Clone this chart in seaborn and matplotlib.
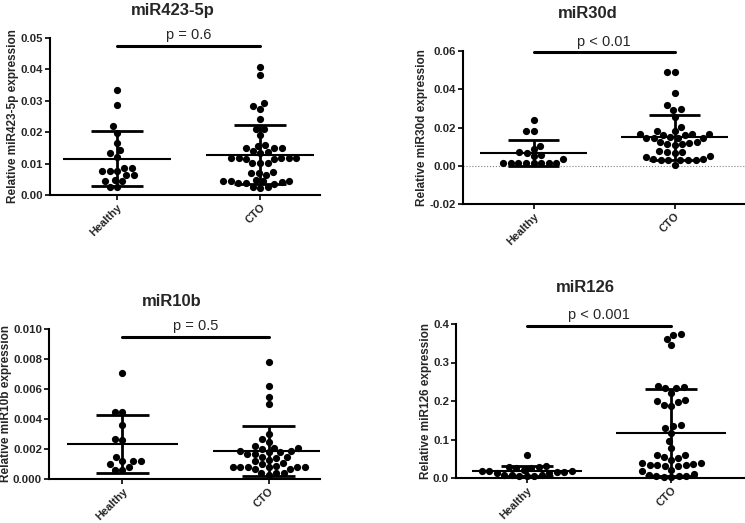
import numpy as np
import pandas as pd
import matplotlib
matplotlib.use("Agg")
import matplotlib.pyplot as plt
import seaborn as sns

# ==============================
# values
# ==============================
groups = ["Healthy", "CTO"]

mir423_healthy = [0.0335, 0.0288, 0.0219, 0.0199, 0.0165, 0.0143, 0.0133, 0.0122, 0.0086, 0.0086,
                  0.0078, 0.0078, 0.0078, 0.0063, 0.0063, 0.0048, 0.0045, 0.0043, 0.0026, 0.0026]
mir423_cto = [0.0407, 0.0383, 0.0293, 0.0284, 0.0273, 0.0241, 0.0211, 0.0211, 0.0191, 0.0160,
              0.0157, 0.0149, 0.0149, 0.0149, 0.0140, 0.0137, 0.0135, 0.0117, 0.0117, 0.0117,
              0.0117, 0.0117, 0.0115, 0.0115, 0.0101, 0.0101, 0.0101, 0.0072, 0.0071, 0.0071,
              0.0065, 0.0048, 0.0046, 0.0044, 0.0043, 0.0043, 0.0040, 0.0038, 0.0037, 0.0035,
              0.0027, 0.0025, 0.0023]

mir30d_healthy = [0.0237, 0.0183, 0.0183, 0.0104, 0.0089, 0.0070, 0.0066, 0.0055, 0.0050, 0.0035,
                  0.0016, 0.0015, 0.0014, 0.0014, 0.0013, 0.0013, 0.0012, 0.0012]
mir30d_cto = [0.0492, 0.0490, 0.0383, 0.0318, 0.0296, 0.0294, 0.0257, 0.0205, 0.0183, 0.0183,
              0.0168, 0.0165, 0.0165, 0.0163, 0.0160, 0.0150, 0.0146, 0.0145, 0.0145, 0.0144,
              0.0125, 0.0122, 0.0120, 0.0115, 0.0112, 0.0110, 0.0075, 0.0072, 0.0070, 0.0068,
              0.0050, 0.0045, 0.0035, 0.0034, 0.0032, 0.0031, 0.0030, 0.0029, 0.0028, 0.0005]

mir10b_healthy = [0.0071, 0.00445, 0.00445, 0.0036, 0.0027, 0.0026, 0.0015, 0.0012, 0.0012, 0.0012,
                  0.00098, 0.0008, 0.0006, 0.0006]
mir10b_cto = [0.0078, 0.0062, 0.0055, 0.0050, 0.0030, 0.0027, 0.0025, 0.0022, 0.0021, 0.0021,
              0.0020, 0.0019, 0.0019, 0.0018, 0.0018, 0.0017, 0.0017, 0.0015, 0.0015, 0.0014,
              0.0013, 0.0012, 0.0011, 0.0010, 0.0009, 0.0008, 0.0008, 0.0008, 0.0008, 0.0008,
              0.0008, 0.0007, 0.0007, 0.0004, 0.0004, 0.0004, 0.0003]

mir126_healthy = [0.061, 0.030, 0.029, 0.028, 0.027, 0.026, 0.022, 0.019, 0.018, 0.017,
                  0.016, 0.015, 0.014, 0.012, 0.009, 0.007, 0.007, 0.006, 0.005, 0.005]
mir126_cto = [0.374, 0.371, 0.361, 0.346, 0.238, 0.236, 0.235, 0.233, 0.221, 0.203,
              0.200, 0.197, 0.190, 0.188, 0.137, 0.136, 0.130, 0.118, 0.097, 0.079,
              0.061, 0.059, 0.054, 0.052, 0.046, 0.040, 0.038, 0.037, 0.035, 0.034,
              0.033, 0.032, 0.030, 0.022, 0.017, 0.010, 0.007, 0.006, 0.005, 0.004,
              0.003, 0.003]

titles = ["miR423-5p", "miR30d", "miR10b", "miR126"]
p_texts = ["p = 0.6", "p < 0.01", "p = 0.5", "p < 0.001"]
y_ticks = [np.arange(0, 0.051, 0.01), np.arange(-0.02, 0.061, 0.02),
           np.arange(0, 0.0101, 0.002), np.arange(0, 0.41, 0.1)]
y_fmt = ["{:.2f}", "{:.2f}", "{:.3f}", "{:.1f}"]
p_bar_y = [0.0476, 0.0593, 0.00947, 0.396]
p_text_y = [0.0508, 0.0645, 0.0102, 0.424]

sets = [(mir423_healthy, mir423_cto), (mir30d_healthy, mir30d_cto),
        (mir10b_healthy, mir10b_cto), (mir126_healthy, mir126_cto)]

# ==============================
# layout (pixel boxes from the reference)
# ==============================
W, H = 745, 523
boxes = [(50, 38, 320, 195), (463, 51, 745, 204), (49, 329, 320, 479), (456, 324, 745, 478)]
xlims = [(-0.47, 1.42), (-0.5, 1.5), (-0.5, 1.35), (-0.49, 1.51)]
title_pos = [(173, 11), (588, 14), (172, 302), (585, 288)]

sns.set_style("ticks")
plt.rcParams["font.family"] = ["Liberation Sans", "DejaVu Sans"]

fig = plt.figure(figsize=(W / 100, H / 100), dpi=100)

for i, (h, c) in enumerate(sets):
    x0, y0, x1, y1 = boxes[i]
    ax = fig.add_axes([x0 / W, 1 - y1 / H, (x1 - x0) / W, (y1 - y0) / H])

    df = pd.DataFrame({"group": ["Healthy"] * len(h) + ["CTO"] * len(c),
                       "value": list(h) + list(c)})
    sns.swarmplot(data=df, x="group", y="value", order=groups, color="black",
                  size=5.2, ax=ax, clip_on=False, zorder=3)

    # mean +- SD
    for k, vals in enumerate([h, c]):
        m = np.mean(vals)
        sd = np.std(vals, ddof=1)
        ax.hlines(m, k - 0.38, k + 0.38, color="black", lw=1.5, zorder=4)
        ax.hlines([m - sd, m + sd], k - 0.18, k + 0.18, color="black", lw=2, zorder=4)
        ax.vlines(k, m - sd, m + sd, color="black", lw=2, zorder=4)

    if i == 1:
        ax.axhline(0, color="gray", lw=0.8, ls=":", zorder=1)

    # significance bar
    ax.plot([0, 1], [p_bar_y[i], p_bar_y[i]], color="black", lw=2.2, clip_on=False)
    ax.text(0.5, p_text_y[i], p_texts[i], ha="center", va="center", fontsize=10.5)

    ax.set_xlim(*xlims[i])
    ax.set_ylim(y_ticks[i][0], y_ticks[i][-1])
    ax.set_yticks(y_ticks[i])
    ax.set_yticklabels([y_fmt[i].format(t) for t in y_ticks[i]], fontsize=8.2, fontweight="bold")
    ax.set_xticks([0, 1])
    ax.set_xticklabels(groups, rotation=45, ha="right", rotation_mode="anchor",
                       fontsize=8, fontweight="bold")
    ax.set_xlabel("")
    ax.set_ylabel("Relative " + titles[i] + " expression", fontsize=8.5, fontweight="bold", labelpad=1)
    ax.tick_params(axis="both", direction="out", length=3.5, width=1.2, color="black", pad=1.5)
    for s in ["top", "right"]:
        ax.spines[s].set_visible(False)
    for s in ["left", "bottom"]:
        ax.spines[s].set_linewidth(1.5)
        ax.spines[s].set_color("black")

    tx, ty = title_pos[i]
    fig.text(tx / W, 1 - ty / H, titles[i], ha="center", va="center",
             fontsize=12, fontweight="bold")

fig.savefig("out.png", dpi=100)
